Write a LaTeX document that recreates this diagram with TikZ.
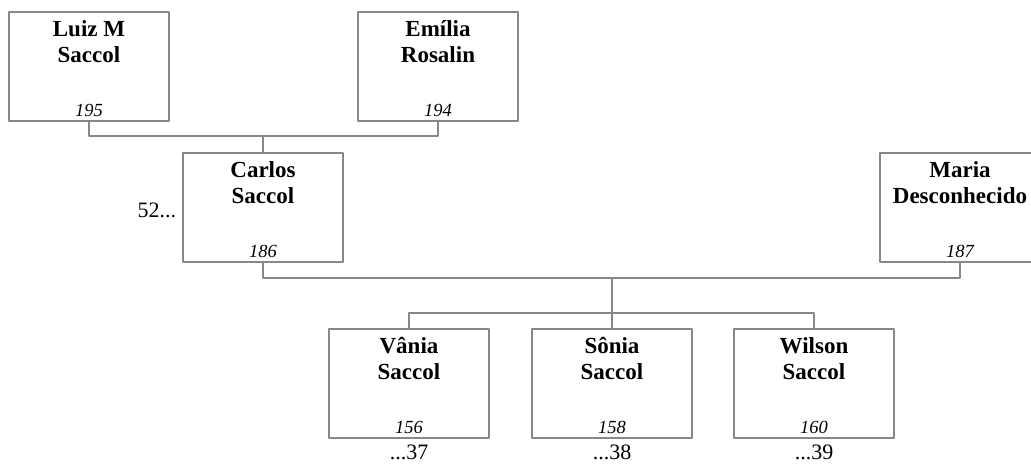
\documentclass[tikz,border=0pt]{standalone}
\usepackage{fontspec}
\setmainfont{Liberation Serif}
\begin{document}
\begin{tikzpicture}[x=1pt,y=-1pt,line cap=round,line join=round,
  person/.style={draw=boxgray,line width=1.3pt,rectangle,minimum width=160pt,minimum height=109pt,inner sep=0pt},
  pname/.style={anchor=north,align=center,inner sep=0pt,font=\fontsize{23}{26}\selectfont\bfseries},
  pnum/.style={anchor=base,inner sep=0pt,font=\fontsize{18.5}{22}\selectfont\itshape},
  side/.style={inner sep=0pt,font=\fontsize{22}{26}\selectfont},
  link/.style={draw=boxgray,line width=1.3pt}]
  \definecolor{boxgray}{RGB}{135,135,135}
  \clip (0,0) rectangle (1031,464);
  % boxes
  \node[person] (luiz) at (89,66.5) {};
  \node[person] (emilia) at (438,66.5) {};
  \node[person] (carlos) at (263,207.5) {};
  \node[person] (maria) at (960,207.5) {};
  \node[person] (vania) at (409,383.5) {};
  \node[person] (sonia) at (612,383.5) {};
  \node[person] (wilson) at (814,383.5) {};
  % names
  \node[pname] (luizname) at ([yshift=-8.5pt]luiz.north) {Luiz M\\Saccol};
  \node[pname] (emilianame) at ([yshift=-8.5pt]emilia.north) {Emília\\Rosalin};
  \node[pname] (carlosname) at ([yshift=-8.5pt]carlos.north) {Carlos\\Saccol};
  \node[pname] (marianame) at ([yshift=-8.5pt]maria.north) {Maria\\Desconhecido};
  \node[pname] (vanianame) at ([yshift=-8.5pt]vania.north) {Vânia\\Saccol};
  \node[pname] (sonianame) at ([yshift=-8.5pt]sonia.north) {Sônia\\Saccol};
  \node[pname] (wilsonname) at ([yshift=-8.5pt]wilson.north) {Wilson\\Saccol};
  % numbers
  \node[pnum] (luiznum) at ([yshift=5.5pt]luiz.south) {195};
  \node[pnum] (emilianum) at ([yshift=5.5pt]emilia.south) {194};
  \node[pnum] (carlosnum) at ([yshift=5.5pt]carlos.south) {186};
  \node[pnum] (marianum) at ([yshift=5.5pt]maria.south) {187};
  \node[pnum] (vanianum) at ([yshift=5.5pt]vania.south) {156};
  \node[pnum] (sonianum) at ([yshift=5.5pt]sonia.south) {158};
  \node[pnum] (wilsonnum) at ([yshift=5.5pt]wilson.south) {160};
  % references
  \node[side,anchor=base east] (carlosref) at ([xshift=-6pt,yshift=-9.5pt]carlos.west) {52...};
  \node[side,anchor=base] (vaniaref) at ([yshift=-21pt]vania.south) {...37};
  \node[side,anchor=base] (soniaref) at ([yshift=-21pt]sonia.south) {...38};
  \node[side,anchor=base] (wilsonref) at ([yshift=-21pt]wilson.south) {...39};
  % lines
  \coordinate (top) at (263,136);
  \coordinate (mid) at (612,278);
  \coordinate (bus) at (612,313);
  \draw[link] (luiz.south) |- (top) -| (emilia.south);
  \draw[link] (top) -- (carlos.north);
  \draw[link] (carlos.south) |- (mid) -| (maria.south);
  \draw[link] (mid) -- (sonia.north);
  \draw[link] (vania.north) |- (bus) -| (wilson.north);
\end{tikzpicture}
\end{document}
